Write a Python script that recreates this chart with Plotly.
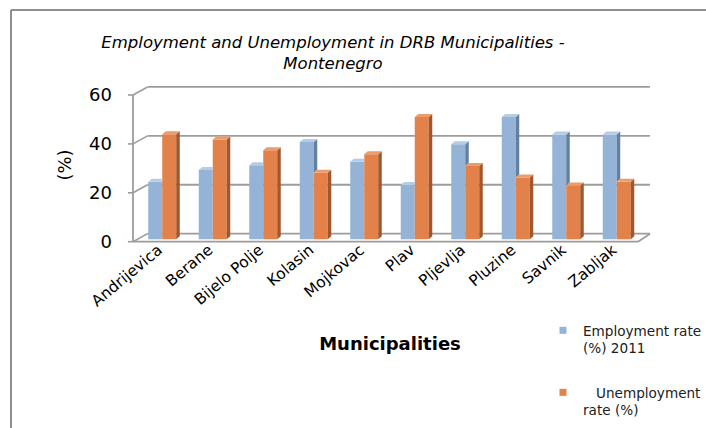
import plotly.graph_objects as go

# ---------------- data ----------------
municipalities = ["Andrijevica", "Berane", "Bijelo Polje", "Kolasin", "Mojkovac",
                  "Plav", "Pljevlja", "Pluzine", "Savnik", "Zabljak"]
employment_2011 = [23.5, 28.3, 30.3, 39.8, 31.7, 22.2, 38.9, 50.0, 42.9, 42.9]
unemployment = [43.0, 40.8, 36.4, 27.2, 34.8, 50.0, 30.0, 25.3, 22.0, 23.5]
y_ticks = [0, 20, 40, 60]

series_names = ["Employment rate<br>(%) 2011", "\u00a0\u00a0\u00a0Unemployment<br>rate (%)"]

# ---------------- styling / geometry ----------------
W_FIG, H_FIG = 706, 428
M_L, M_R, M_T, M_B = 127, 53, 85, 183
PX_X = 50.5          # px per category
PX_Y = 2.445         # px per percent
FRONT_ZERO_PX = 241.7
plot_w = W_FIG - M_L - M_R
plot_h = H_FIG - M_T - M_B
x_min = -0.5 - (133 - M_L) / PX_X
x_max = x_min + plot_w / PX_X
y_min = -((H_FIG - M_B) - FRONT_ZERO_PX) / PX_Y
y_max = y_min + plot_h / PX_Y

DX = 14.6 / PX_X     # depth of back wall (x)
DY = 3.3             # depth of back wall (y, in %)
BAR_SHIFT = 4.0 / PX_X
BAR_BASE = 0.98
BAR_W = 14.0 / PX_X
SDX = 3.5 / PX_X
SDY = 3.0 / PX_Y
X_FRONT_RIGHT = 9.5

BLUE_FRONT, BLUE_TOP, BLUE_SIDE = "#95B3D7", "#B6CBE4", "#62809F"
OR_FRONT, OR_TOP, OR_SIDE = "#E3814A", "#EC9C68", "#A2562B"
GRID = "#9C9C9C"
FONT = "DejaVu Sans"

idx = list(range(len(municipalities)))

fig = go.Figure()

# front faces (bars)
fig.add_trace(go.Bar(x=idx, y=employment_2011, base=BAR_BASE, offset=BAR_SHIFT - BAR_W,
                     width=BAR_W, marker=dict(color=BLUE_FRONT, line=dict(width=0)),
                     showlegend=False, name="Employment rate (%) 2011"))
fig.add_trace(go.Bar(x=idx, y=unemployment, base=BAR_BASE, offset=BAR_SHIFT,
                     width=BAR_W, marker=dict(color=OR_FRONT, line=dict(width=0)),
                     showlegend=False, name="Unemployment rate (%)"))

# 3D faces
bs_x, bs_y, bt_x, bt_y, os_x, os_y, ot_x, ot_y = ([] for _ in range(8))
for i, e, u in zip(idx, employment_2011, unemployment):
    bl = i + BAR_SHIFT
    bt = BAR_BASE + e
    ot = BAR_BASE + u
    if bt >= ot:
        bt_x += [bl - BAR_W, bl, bl + SDX, bl - BAR_W + SDX, bl - BAR_W, None]
        bt_y += [bt, bt, bt + SDY, bt + SDY, bt, None]
        bs_x += [bl, bl + SDX, bl + SDX, bl, bl, None]
        bs_y += [ot, ot + SDY, bt + SDY, bt, ot, None]
    else:
        bt_x += [bl - BAR_W, bl, bl, bl - BAR_W + SDX, bl - BAR_W, None]
        bt_y += [bt, bt, bt + SDY, bt + SDY, bt, None]
    ot_x += [bl, bl + BAR_W, bl + BAR_W + SDX, bl + SDX, bl, None]
    ot_y += [ot, ot, ot + SDY, ot + SDY, ot, None]
    os_x += [bl + BAR_W, bl + BAR_W + SDX, bl + BAR_W + SDX, bl + BAR_W, bl + BAR_W, None]
    os_y += [BAR_BASE, BAR_BASE + SDY, ot + SDY, ot, BAR_BASE, None]

for xs, ys, col in [(bs_x, bs_y, BLUE_SIDE), (bt_x, bt_y, BLUE_TOP),
                    (os_x, os_y, OR_SIDE), (ot_x, ot_y, OR_TOP)]:
    fig.add_trace(go.Scatter(x=xs, y=ys, mode="lines", fill="toself", fillcolor=col,
                             line=dict(width=0, color=col), showlegend=False,
                             hoverinfo="skip"))

# legend entries
fig.add_trace(go.Scatter(x=[None], y=[None], mode="markers", name=series_names[0],
                         marker=dict(symbol="square", size=7, color=BLUE_FRONT),
                         legend="legend"))
fig.add_trace(go.Scatter(x=[None], y=[None], mode="markers", name=series_names[1],
                         marker=dict(symbol="square", size=7, color=OR_FRONT),
                         legend="legend2"))

# walls, gridlines, axes
shapes = []
for v in y_ticks:
    shapes.append(dict(type="line", xref="x", yref="y", x0=-0.5 + DX, y0=v + DY,
                       x1=X_FRONT_RIGHT + 0.238, y1=v + DY, layer="below",
                       line=dict(color=GRID, width=1.8)))
    shapes.append(dict(type="line", xref="x", yref="y", x0=-0.5, y0=v,
                       x1=-0.5 + DX, y1=v + DY, layer="below",
                       line=dict(color=GRID, width=1.6)))
    shapes.append(dict(type="line", xref="x", yref="y", x0=-0.5 - 5 / PX_X, y0=v,
                       x1=-0.5, y1=v, layer="below",
                       line=dict(color=GRID, width=1.6)))
shapes.append(dict(type="line", xref="x", yref="y", x0=-0.5, y0=0, x1=-0.5, y1=60,
                   layer="below", line=dict(color=GRID, width=1.8)))
shapes.append(dict(type="line", xref="x", yref="y", x0=-0.5, y0=0, x1=X_FRONT_RIGHT, y1=0,
                   layer="below", line=dict(color=GRID, width=1.8)))
shapes.append(dict(type="line", xref="x", yref="y", x0=X_FRONT_RIGHT, y0=0,
                   x1=X_FRONT_RIGHT + 0.238, y1=DY, layer="below",
                   line=dict(color=GRID, width=1.8)))

# outer chart border (left and top visible)
def px_x(p):
    return (p - M_L) / plot_w

def px_y(p):
    return ((H_FIG - M_B) - p) / plot_h

shapes.append(dict(type="line", xref="paper", yref="paper", x0=px_x(11), y0=px_y(10),
                   x1=px_x(11), y1=px_y(440), line=dict(color="#8E8E8E", width=2)))
shapes.append(dict(type="line", xref="paper", yref="paper", x0=px_x(11), y0=px_y(10),
                   x1=px_x(720), y1=px_y(10), line=dict(color="#8E8E8E", width=2)))

fig.update_layout(
    width=W_FIG, height=H_FIG,
    margin=dict(l=M_L, r=M_R, t=M_T, b=M_B, autoexpand=False),
    paper_bgcolor="white", plot_bgcolor="white",
    barmode="overlay",
    shapes=shapes,
    title=dict(text="Employment and Unemployment in DRB Municipalities -<br>Montenegro",
               x=333 / W_FIG, xref="container", xanchor="center",
               y=1 - 48 / H_FIG, yref="container", yanchor="top",
               font=dict(family=FONT, size=16.5, color="#000000", style="italic")),
    xaxis=dict(range=[x_min, x_max], tickmode="array", tickvals=idx,
               ticktext=municipalities, tickangle=-40, showgrid=False,
               zeroline=False, showline=False, ticks="", ticklabelstandoff=-8,
               tickfont=dict(family=FONT, size=15.5, color="#000000"),
               title=dict(text="<b>Municipalities</b>", standoff=28,
                          font=dict(family=FONT, size=18, color="#000000")),
               fixedrange=True),
    yaxis=dict(range=[y_min, y_max], tickmode="array", tickvals=y_ticks,
               ticktext=[str(v) for v in y_ticks], showgrid=False, zeroline=False,
               showline=False, ticks="", ticklabelstandoff=14,
               tickfont=dict(family=FONT, size=18, color="#000000"),
               title=dict(text="(%)", standoff=12,
                          font=dict(family=FONT, size=18, color="#000000")),
               fixedrange=True),
    legend=dict(x=543 / W_FIG, y=1 - 315 / H_FIG, xref="container", yref="container",
                xanchor="left", yanchor="top", valign="top", bgcolor="rgba(0,0,0,0)",
                font=dict(family=FONT, size=13.6, color="#202020")),
    legend2=dict(x=543 / W_FIG, y=1 - 377 / H_FIG, xref="container", yref="container",
                 xanchor="left", yanchor="top", valign="top", bgcolor="rgba(0,0,0,0)",
                 font=dict(family=FONT, size=13.6, color="#202020")),
)

fig.write_html("out.html")
